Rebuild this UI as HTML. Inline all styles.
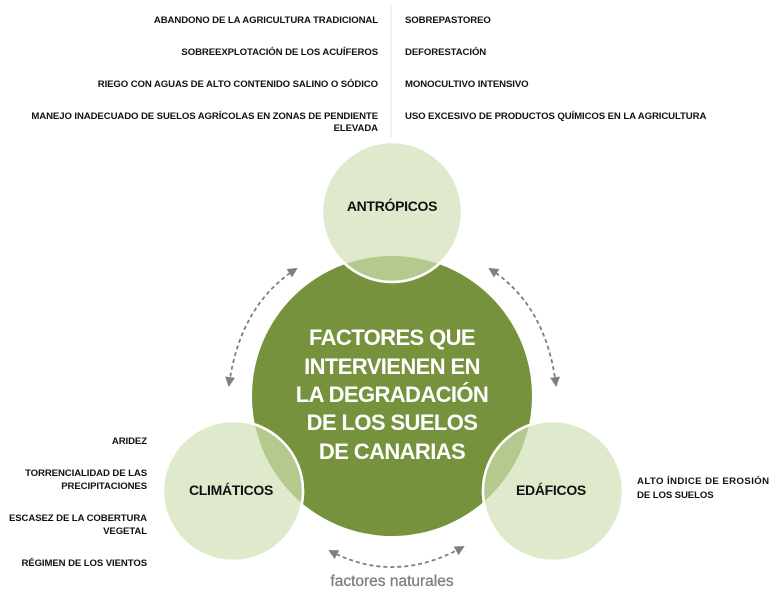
<!DOCTYPE html>
<html><head><meta charset="utf-8"><style>
body{margin:0;background:#fff;}
svg{display:block}
.s{font-family:"Liberation Sans",sans-serif;font-weight:bold;font-size:9.6px;fill:#111;letter-spacing:-0.1px}
.c{font-family:"Liberation Sans",sans-serif;font-weight:bold;fill:#fff;font-size:22px;letter-spacing:-0.6px}
.l{font-family:"Liberation Sans",sans-serif;font-weight:bold;fill:#111;font-size:14px;letter-spacing:-0.3px}
</style></head><body>
<svg width="776" height="610" viewBox="0 0 776 610">
<defs>
<clipPath id="big"><circle cx="392" cy="396" r="140"/></clipPath>
<marker id="ah" viewBox="0 0 10 10" refX="8" refY="5" markerWidth="5.5" markerHeight="5.5" orient="auto-start-reverse"><path d="M0,0 L10,5 L0,10 z" fill="#7f7f7f"/></marker>
</defs>
<line x1="391" y1="4" x2="391" y2="138" stroke="#ccc" stroke-width="1" stroke-dasharray="1,1"/>
<g class="s" text-anchor="end">
<text x="378" y="23">ABANDONO DE LA AGRICULTURA TRADICIONAL</text>
<text x="378" y="55">SOBREEXPLOTACIÓN DE LOS ACUÍFEROS</text>
<text x="378" y="87">RIEGO CON AGUAS DE ALTO CONTENIDO SALINO O SÓDICO</text>
<text x="378" y="119">MANEJO INADECUADO DE SUELOS AGRÍCOLAS EN ZONAS DE PENDIENTE</text>
<text x="378" y="131">ELEVADA</text>
<text x="147" y="444">ARIDEZ</text>
<text x="147" y="476">TORRENCIALIDAD DE LAS</text>
<text x="147" y="489">PRECIPITACIONES</text>
<text x="147" y="521">ESCASEZ DE LA COBERTURA</text>
<text x="147" y="534">VEGETAL</text>
<text x="147" y="566">RÉGIMEN DE LOS VIENTOS</text>
</g>
<g class="s">
<text x="405" y="23">SOBREPASTOREO</text>
<text x="405" y="55">DEFORESTACIÓN</text>
<text x="405" y="87">MONOCULTIVO INTENSIVO</text>
<text x="405" y="119">USO EXCESIVO DE PRODUCTOS QUÍMICOS EN LA AGRICULTURA</text>
<text x="637" y="484" textLength="132" lengthAdjust="spacing">ALTO ÍNDICE DE EROSIÓN</text>
<text x="637" y="498">DE LOS SUELOS</text>
</g>
<circle cx="392" cy="396" r="140" fill="#76923c"/>
<g fill="#dfe9cb" stroke="#fff" stroke-width="2.5">
<circle cx="392" cy="212" r="70"/>
<circle cx="233" cy="491" r="70"/>
<circle cx="553" cy="491" r="70"/>
</g>
<g clip-path="url(#big)" fill="#b5c98f" stroke="#fff" stroke-width="2.5">
<circle cx="392" cy="212" r="70"/>
<circle cx="233" cy="491" r="70"/>
<circle cx="553" cy="491" r="70"/>
</g>
<g class="c" text-anchor="middle">
<text x="392" y="345">FACTORES QUE</text>
<text x="392" y="374">INTERVIENEN EN</text>
<text x="392" y="402">LA DEGRADACIÓN</text>
<text x="392" y="430">DE LOS SUELOS</text>
<text x="392" y="459">DE CANARIAS</text>
</g>
<g class="l" text-anchor="middle">
<text x="392" y="211">ANTRÓPICOS</text>
<text x="231" y="495">CLIMÁTICOS</text>
<text x="551" y="495">EDÁFICOS</text>
</g>
<g fill="none" stroke="#7f7f7f" stroke-width="1.8" stroke-dasharray="4,3">
<path d="M296,269 Q240,305 229,385" marker-start="url(#ah)" marker-end="url(#ah)"/>
<path d="M490,269 Q546,305 556,385" marker-start="url(#ah)" marker-end="url(#ah)"/>
<path d="M330,551 Q395,585 463,547" marker-start="url(#ah)" marker-end="url(#ah)"/>
</g>
<text x="392" y="586" text-anchor="middle" font-family="Liberation Sans, sans-serif" font-size="15.5" fill="#7f7f7f" stroke="#7f7f7f" stroke-width="0.3">factores naturales</text>
</svg>
</body></html>
